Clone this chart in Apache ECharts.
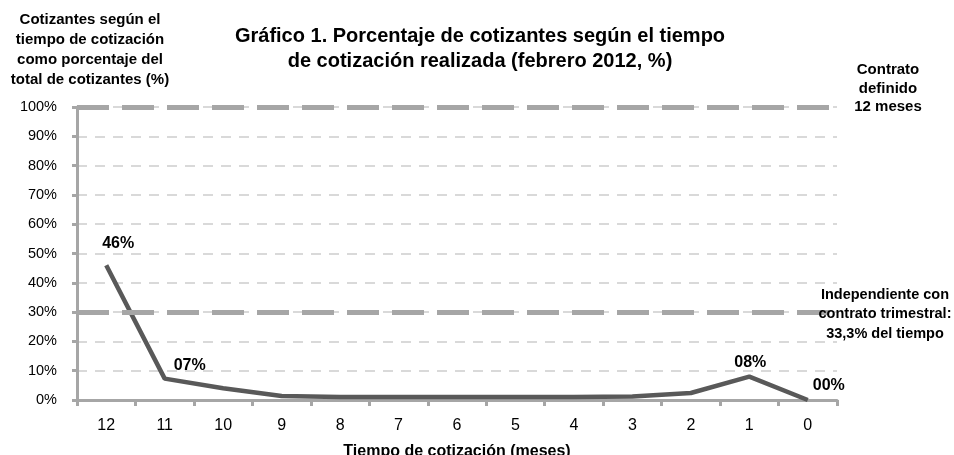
<!DOCTYPE html>
<html>
<head>
<meta charset="utf-8">
<script src="https://cdn.jsdelivr.net/npm/echarts@6/dist/echarts.min.js"></script>
<style>
  html, body { margin: 0; padding: 0; background: #fff; }
  #chart { width: 954px; height: 455px; }
</style>
</head>
<body>
<div id="chart"></div>
<script>
var months = ['12', '11', '10', '9', '8', '7', '6', '5', '4', '3', '2', '1', '0'];
var cotizantes = [46, 7.3, 4, 1.4, 1, 1, 1, 1, 1, 1.2, 2.4, 8, 0];
var labeled = ['12', '11', '1', '0'];
var refLines = [100, 30];

// label nudges, keyed by month
var labelOffset = { '12': [12, -9], '11': [25, 0], '1': [1, -1], '0': [21, -1] };

var font = 'Liberation Sans, Arial, sans-serif';
var chart = echarts.init(document.getElementById('chart'));

var seriesData = cotizantes.map(function (v, i) {
  var m = months[i];
  var item = { value: v };
  if (labeled.indexOf(m) >= 0) {
    item.label = { show: true, position: 'top', offset: labelOffset[m] };
  }
  return item;
});

function note(text, left, top, size, lh) {
  return {
    text: text, left: left, top: top, textAlign: 'center', padding: 0,
    textStyle: { fontSize: size, fontWeight: 'bold', color: '#000', lineHeight: lh, fontFamily: font }
  };
}

var option = {
  animation: false,
  textStyle: { fontFamily: font },
  title: [
    note('Gráfico 1. Porcentaje de cotizantes según el tiempo\nde cotización realizada (febrero 2012, %)', 480, 24, 20, 25),
    note('Cotizantes según el\ntiempo de cotización\ncomo porcentaje del\ntotal de cotizantes (%)', 90, 10, 15, 20),
    note('Contrato\ndefinido\n12 meses', 888, 61, 15, 18.5),
    note('Independiente con\ncontrato trimestral:\n33,3% del tiempo', 885, 285, 14.5, 19.5)
  ],
  grid: { left: 77, right: 117, top: 107, bottom: 55, outerBoundsMode: 'none' },
  xAxis: {
    type: 'category',
    data: months,
    boundaryGap: true,
    name: 'Tiempo de cotización (meses)',
    nameLocation: 'middle',
    nameGap: 44,
    nameTextStyle: { fontSize: 16, fontWeight: 'bold', color: '#000', fontFamily: font },
    axisLine: { lineStyle: { color: '#a6a6a6', width: 3 } },
    axisTick: { show: true, length: 6, lineStyle: { color: '#a6a6a6', width: 3 } },
    axisLabel: { fontSize: 16, color: '#000', margin: 18 },
    splitLine: { show: false }
  },
  yAxis: {
    type: 'value',
    min: 0, max: 100, interval: 10,
    axisLine: { show: true, lineStyle: { color: '#a6a6a6', width: 3 } },
    axisTick: { show: true, length: 5, lineStyle: { color: '#a6a6a6', width: 3 } },
    axisLabel: { fontSize: 14.5, color: '#000', margin: 20, formatter: '{value}%' },
    splitLine: { show: true, lineStyle: { color: '#d9d9d9', width: 2, type: [10, 8] } }
  },
  series: [{
    type: 'line',
    data: seriesData,
    symbol: 'circle',
    symbolSize: 0.1,
    showAllSymbol: true,
    itemStyle: { color: '#595959' },
    lineStyle: { color: '#595959', width: 4.5 },
    label: {
      show: false,
      fontSize: 16, fontWeight: 'bold', color: '#000',
      formatter: function (p) {
        return String(Math.round(p.value)).padStart(2, '0') + '%';
      }
    },
    markLine: {
      silent: true,
      symbol: 'none',
      label: { show: false },
      lineStyle: { color: '#a6a6a6', width: 5, type: [32, 13] },
      data: refLines.map(function (v) { return { yAxis: v }; })
    },
    z: 3
  }]
};
chart.setOption(option);
</script>
</body>
</html>
